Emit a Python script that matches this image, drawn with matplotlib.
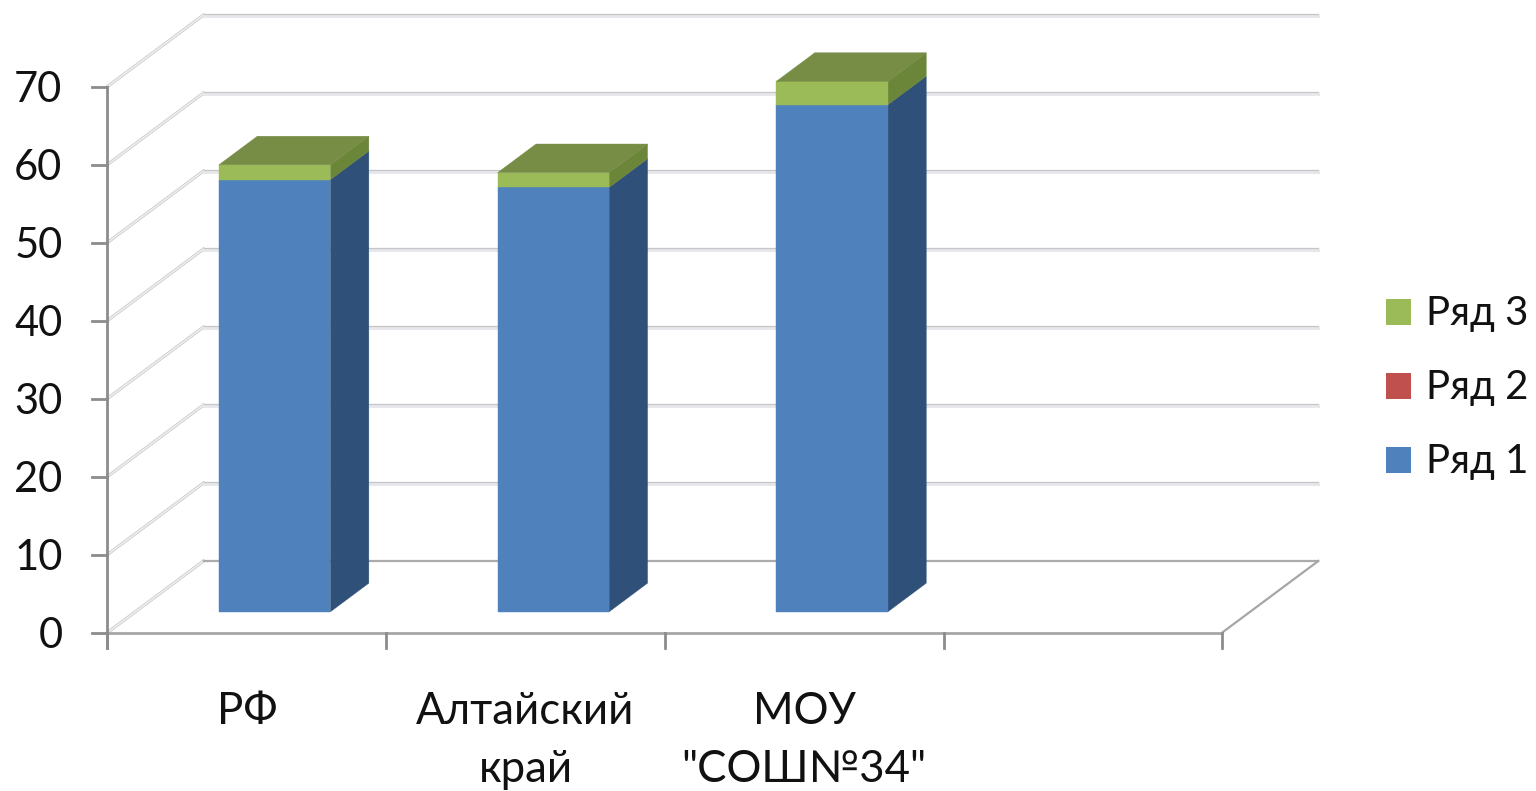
import matplotlib
matplotlib.use("Agg")
import matplotlib.pyplot as plt
from matplotlib.patches import Polygon, Rectangle

plt.rcParams['font.family'] = ['Lato', 'Open Sans', 'DejaVu Sans']

categories = ['РФ', 'Алтайский\nкрай', 'МОУ\n"СОШ№34"']
series_1 = [55.4, 54.4, 65.0]
series_2 = [0.0, 0.0, 0.0]
series_3 = [1.9, 1.9, 3.0]
y_ticks = [0, 10, 20, 30, 40, 50, 60, 70]
n_slots = 4
legend_names = ['Ряд 3', 'Ряд 2', 'Ряд 1']

# pixels per data unit and the depth of the box, all from the reference
W, H = 1536, 791
X0, Y0 = 107.5, 632.5
PX_CAT = 278.7
PX_VAL = 7.8
DEPTH_X = 96 / PX_CAT
DEPTH_Y = 71.5 / PX_VAL
BAR_W = 0.4
BAR_D0, BAR_D1 = 0.29, 0.69

BLUE, BLUE_SIDE = '#4f81bd', '#2f5079'
GREEN, GREEN_SIDE, GREEN_TOP = '#9bbb59', '#6b8539', '#778d45'
RED = '#c0504d'

fig = plt.figure(figsize=(W / 100, H / 100), dpi=100)
ax = fig.add_axes([0, 0, 1, 1])
ax.set_xlim(-X0 / PX_CAT, (W - X0) / PX_CAT)
ax.set_ylim((Y0 - H) / PX_VAL, Y0 / PX_VAL)
ax.axis('off')


def shift(x, y, d):
    return x + DEPTH_X * d, y + DEPTH_Y * d


# back wall grid lines and left wall diagonals
for v in y_ticks:
    bx, by = shift(0, v, 1)
    ex, _ = shift(n_slots, v, 1)
    ax.plot([0, bx], [v, by], color='#c8c8c8', lw=2.2, zorder=1)
    ax.plot([0, bx], [v, by], color='#f0f0f0', lw=1.1, zorder=1)
    if v == 0:
        ax.plot([bx, ex], [by, by], color='#ababab', lw=1.6, zorder=1)
        continue
    ax.plot([bx, ex], [by - 0.15, by - 0.15], color='#e6e8ec', lw=2.2, zorder=1)
    ax.plot([bx, ex], [by + 0.08, by + 0.08], color='#c6c6c6', lw=0.9, zorder=1)

# floor edge, right side
fx, fy = shift(n_slots, 0, 1)
ax.plot([n_slots, fx], [0, fy], color='#a6a6a6', lw=1.6, zorder=1)

# front axes
ax.plot([0, 0], [-2.05, 70], color='#8c8c8c', lw=2, zorder=2)
ax.plot([0, n_slots], [0, 0], color='#a6a6a6', lw=2, zorder=2)
for i in range(n_slots + 1):
    ax.plot([i, i], [-2.05, 0], color='#8c8c8c', lw=2, zorder=2)
for v in y_ticks:
    ax.plot([-15 / PX_CAT, 0], [v, v], color='#8c8c8c', lw=2, zorder=2)
    ax.text(-45 / PX_CAT, v - 0.5, str(v), ha='right', va='center', fontsize=30, color='#111111')


def box_sides(left, bottom, height, front, side):
    right = left + BAR_W
    x0, y0 = shift(left, bottom, BAR_D0)
    x1, _ = shift(right, bottom, BAR_D0)
    dx = DEPTH_X * (BAR_D1 - BAR_D0)
    dy = DEPTH_Y * (BAR_D1 - BAR_D0)
    ax.add_patch(Polygon([(x1, y0), (x1 + dx, y0 + dy), (x1 + dx, y0 + dy + height), (x1, y0 + height)],
                         fc=side, ec=side, lw=0.3, zorder=5))
    ax.add_patch(Rectangle((x0, y0), x1 - x0, height, fc=front, ec=front, lw=0.3, zorder=6))


for i, name in enumerate(categories):
    left = i + 0.5 - BAR_W / 2
    box_sides(left, 0, series_1[i], BLUE, BLUE_SIDE)
    box_sides(left, series_1[i] + series_2[i], series_3[i], GREEN, GREEN_SIDE)
    # top face of the stack
    total = series_1[i] + series_2[i] + series_3[i]
    x0, y0 = shift(left, total, BAR_D0)
    x1, _ = shift(left + BAR_W, total, BAR_D0)
    dx = DEPTH_X * (BAR_D1 - BAR_D0)
    dy = DEPTH_Y * (BAR_D1 - BAR_D0)
    ax.add_patch(Polygon([(x0, y0), (x1, y0), (x1 + dx, y0 + dy), (x0 + dx, y0 + dy)],
                         fc=GREEN_TOP, ec=GREEN_TOP, lw=0.3, zorder=7))
    ax.text(i + 0.5, -7.5, name, ha='center', va='top', fontsize=31.5, color='#111111',
            linespacing=1.53)

# legend, placed by hand as the chart has its own axes-free layout
for name, color, py in zip(legend_names, [GREEN, RED, BLUE], [311.5, 386, 460]):
    lx = (1386 - X0) / PX_CAT
    ly = (Y0 - py) / PX_VAL
    ax.add_patch(Rectangle((lx, ly - 13 / PX_VAL), 25 / PX_CAT, 26 / PX_VAL, fc=color, ec='none', zorder=3))
    ax.text((1426 - X0) / PX_CAT, ly - 0.25, name, ha='left', va='center', fontsize=29, color='#111111')

fig.savefig('out.png', dpi=100, facecolor='white')
